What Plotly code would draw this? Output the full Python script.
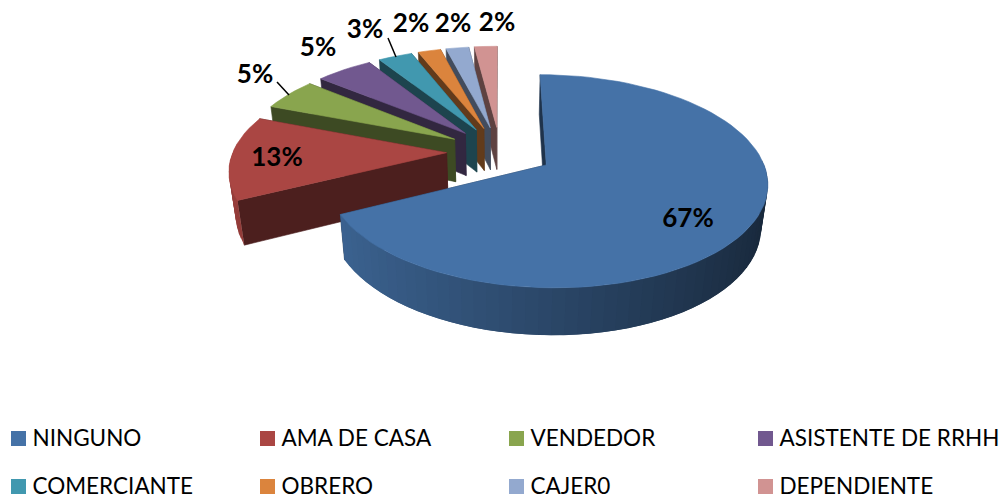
"""Pie con sectores separados, vista 3D, dibujado con Scatter"""
import numpy as np
import plotly.graph_objects as go

labels = ["NINGUNO", "AMA DE CASA", "VENDEDOR", "ASISTENTE DE RRHH",
          "COMERCIANTE", "OBRERO", "CAJER0", "DEPENDIENTE"]
values = [67, 13, 5, 5, 3, 2, 2, 2]
colors = ["#4572A7", "#AA4643", "#89A54E", "#71588F",
          "#4198AF", "#DB843D", "#93A9CF", "#D19392"]

# placement of the percent labels, in page pixels
label_x = [688, 277, 255, 318, 365, 411, 453, 497]
label_y = [220, 159, 76, 49, 31, 25, 25, 24]

# camera of the fake 3d view
OX, OY = 500, 151.5
A, B = 213.5, 100    # radius on screen
P = 0.15             # perspective
Q = 0.025            # shrink towards the bottom face
DEPTH = 44
EXPLODE = 0.25


def project(wx, wy, z=0.0):
    w = 1 + P * wy + Q * z
    return OX + A * wx / w, OY + (-B * wy + DEPTH * z) / w


def shade(color, f):
    h = color.lstrip("#")
    r, g, b = int(h[:2], 16), int(h[2:4], 16), int(h[4:], 16)
    return f"rgb({int(r*f)},{int(g*f)},{int(b*f)})"


def poly(fig, xs, ys, color, width=0.6):
    fig.add_trace(go.Scatter(
        x=list(xs) + [xs[0]], y=list(ys) + [ys[0]],
        mode="lines", fill="toself", fillcolor=color,
        line=dict(color=color, width=width),
        hoverinfo="skip", showlegend=False,
    ))


def wedge(fig, start, end, color):
    mid = (start + end) / 2
    cx, cy = EXPLODE * np.sin(mid), EXPLODE * np.cos(mid)
    n = max(3, int((end - start) / np.radians(3)))
    th = np.linspace(start, end, n + 1)
    rx, ry = cx + np.sin(th), cy + np.cos(th)

    # radial walls
    for k in (-1, 0):
        x0, y0 = project(cx, cy)
        x1, y1 = project(rx[k], ry[k])
        x2, y2 = project(rx[k], ry[k], 1)
        x3, y3 = project(cx, cy, 1)
        poly(fig, [x0, x1, x2, x3], [y0, y1, y2, y3], shade(color, 0.45))

    # outer wall, a bit darker towards the right. Each band runs under the
    # next one so no seams show between them. Back part can't be seen
    for i in range(n):
        if np.cos(th[i]) > 0 and np.cos(th[i + 1]) > 0:
            continue
        j = min(i + 2, n)
        x0, y0 = project(rx[i], ry[i])
        x1, y1 = project(rx[j], ry[j])
        x2, y2 = project(rx[j], ry[j], 1)
        x3, y3 = project(rx[i], ry[i], 1)
        f = 0.62 - 0.27 * np.sin((th[i] + th[i + 1]) / 2)
        poly(fig, [x0, x1, x2, x3], [y0, y1, y2, y3], shade(color, f), width=0)

    # top face
    tx, ty = project(np.r_[cx, rx], np.r_[cy, ry])
    poly(fig, tx, ty, color)


fig = go.Figure()

total = sum(values)
edges = np.radians(np.r_[0, np.cumsum(values)] / total * 360)

# back slices first, the big one last
for i in range(len(values) - 1, -1, -1):
    wedge(fig, edges[i], edges[i + 1], colors[i])

# leader lines
fig.add_trace(go.Scatter(x=[277, 289, None, 388, 396], y=[82, 95, None, 38, 57],
                         mode="lines", line=dict(color="#000000", width=1.5),
                         hoverinfo="skip", showlegend=False))

fig.add_trace(go.Scatter(
    x=label_x, y=label_y, mode="text",
    text=[f"<b>{v}%</b>" for v in values],
    textfont=dict(family="Lato", size=26, color="#000000"),
    textposition="middle center", hoverinfo="skip", showlegend=False,
))

# legend, 4 columns by 2 rows
for i, name in enumerate(labels):
    lx = 18.5 + 249 * (i % 4)
    ly = 438.5 + 48 * (i // 4)
    fig.add_trace(go.Scatter(
        x=[lx], y=[ly], mode="markers",
        marker=dict(symbol="square", size=15, color=colors[i]),
        hoverinfo="skip", showlegend=False,
    ))
    fig.add_trace(go.Scatter(
        x=[lx + 14], y=[ly + 1.5], mode="text", text=[name],
        textposition="middle right",
        textfont=dict(family="Lato", size=22.5, color="#000000"),
        hoverinfo="skip", showlegend=False,
    ))

fig.update_layout(
    width=1001, height=500, margin=dict(l=0, r=0, t=0, b=0),
    paper_bgcolor="#ffffff", plot_bgcolor="#ffffff", showlegend=False,
    xaxis=dict(range=[0, 1001], visible=False),
    yaxis=dict(range=[500, 0], visible=False),
)
fig.write_html("out.html", config=dict(displayModeBar=False),
               post_script="document.body.style.margin='0';window.dispatchEvent(new Event('resize'));")
